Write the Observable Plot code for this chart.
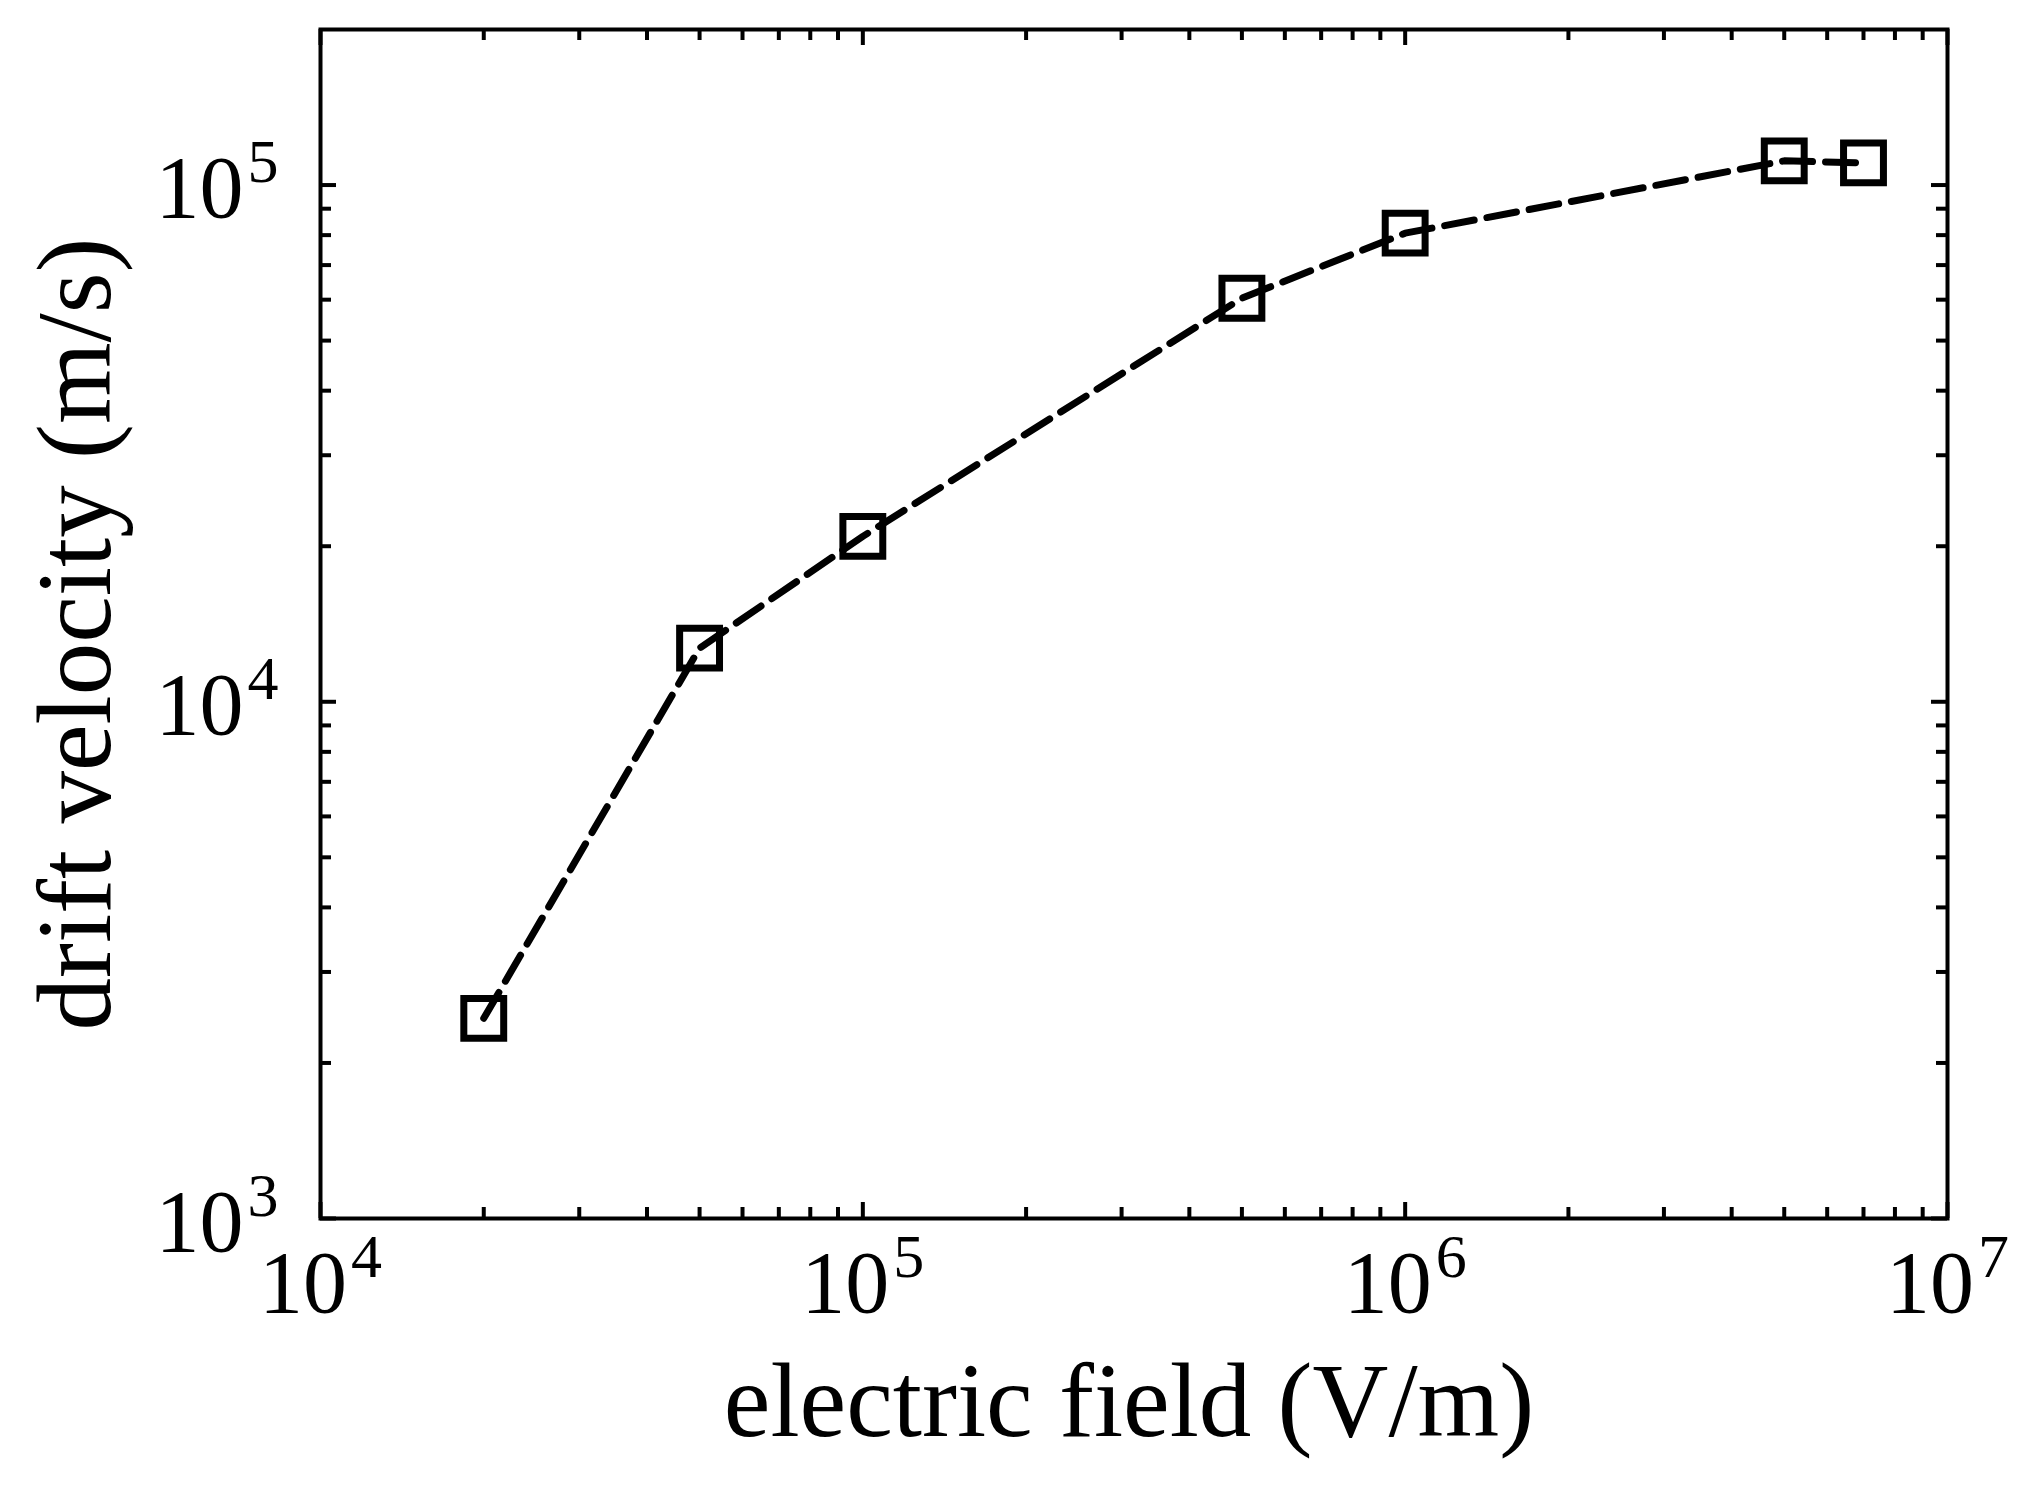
<!DOCTYPE html>
<html>
<head>
<meta charset="utf-8">
<script src="https://cdn.jsdelivr.net/npm/d3@7"></script>
<script src="https://cdn.jsdelivr.net/npm/@observablehq/plot@0.6"></script>
<style>
  html, body { margin: 0; padding: 0; background: #ffffff; }
  #chart svg { display: block; }
</style>
</head>
<body>
<div id="chart"></div>
<script>
// ---- data ----
const electricField = [2e4, 5e4, 1e5, 5e5, 1e6, 5e6, 7e6];          // V/m
const driftVelocity = [2440, 12700, 20900, 60400, 80700, 111400, 110400]; // m/s

const xMajorTicks = [1e4, 1e5, 1e6, 1e7];
const xMinorTicks = [2e4, 3e4, 4e4, 5e4, 6e4, 7e4, 8e4, 9e4,
                     2e5, 3e5, 4e5, 5e5, 6e5, 7e5, 8e5, 9e5,
                     2e6, 3e6, 4e6, 5e6, 6e6, 7e6, 8e6, 9e6];
const yMajorTicks = [1e3, 1e4, 1e5];
const yMinorTicks = [2e3, 3e3, 4e3, 5e3, 6e3, 7e3, 8e3, 9e3,
                     2e4, 3e4, 4e4, 5e4, 6e4, 7e4, 8e4, 9e4];
const xTickLabels = ["10^4", "10^5", "10^6", "10^7"];
const yTickLabels = ["10^3", "10^4", "10^5"];
const xDomain = [1e4, 1e7];
const yDomain = [1e3, 2e5];
const xLabel = "electric field (V/m)";
const yLabel = "drift velocity (m/s)";

const points = electricField.map((e, i) => ({field: e, velocity: driftVelocity[i]}));

// ---- layout ----
const W = 2041, H = 1492;
const mL = 320, mR = 94, mT = 29, mB = 274;
const frameH = H - mT - mB;
const frameW = W - mL - mR;
const majorLen = 16, minorLen = 11, tickW = 4;
const FONT = "'Liberation Serif', 'DejaVu Serif', serif";

const xFmt = d => xTickLabels[xMajorTicks.indexOf(d)];
const yFmt = d => yTickLabels[yMajorTicks.indexOf(d)];

const tickStyle = {stroke: "black", strokeWidth: tickW, strokeLinecap: "butt"};

const chart = Plot.plot({
  width: W,
  height: H,
  marginLeft: mL,
  marginRight: mR,
  marginTop: mT,
  marginBottom: mB,
  style: {fontFamily: FONT, background: "white", color: "black"},
  x: {type: "log", domain: xDomain},
  y: {type: "log", domain: yDomain},
  marks: [
    // inward ticks: bottom & top
    Plot.tickX(xMinorTicks, {x: d => d, insetTop: frameH - minorLen, ...tickStyle}),
    Plot.tickX(xMinorTicks, {x: d => d, insetBottom: frameH - minorLen, ...tickStyle}),
    Plot.tickX(xMajorTicks, {x: d => d, insetTop: frameH - majorLen, ...tickStyle}),
    Plot.tickX(xMajorTicks, {x: d => d, insetBottom: frameH - majorLen, ...tickStyle}),
    // inward ticks: left & right
    Plot.tickY(yMinorTicks, {y: d => d, insetRight: frameW - minorLen, ...tickStyle}),
    Plot.tickY(yMinorTicks, {y: d => d, insetLeft: frameW - minorLen, ...tickStyle}),
    Plot.tickY(yMajorTicks, {y: d => d, insetRight: frameW - majorLen, ...tickStyle}),
    Plot.tickY(yMajorTicks, {y: d => d, insetLeft: frameW - majorLen, ...tickStyle}),
    // tick labels
    Plot.axisX({anchor: "bottom", ticks: xMajorTicks, tickFormat: xFmt, tickSize: 0,
                tickPadding: 31, fontSize: 88, label: null, fill: "black"}),
    Plot.axisY({anchor: "left", ticks: yMajorTicks, tickFormat: yFmt, tickSize: 0,
                tickPadding: 42, dy: 4, fontSize: 88, label: null, fill: "black"}),
    // axis titles
    Plot.text([xLabel], {text: d => d, frameAnchor: "bottom", textAnchor: "middle", lineAnchor: "middle",
                         dy: 184, dx: -5, fontSize: 105, fill: "black"}),
    Plot.text([yLabel], {text: d => d, frameAnchor: "left", textAnchor: "middle", lineAnchor: "middle",
                         rotate: -90, dx: -244, dy: 10, fontSize: 105, fill: "black"}),
    // data
    Plot.line(points, {x: "field", y: "velocity", stroke: "black", strokeWidth: 7,
                       strokeDasharray: "30,13", strokeLinejoin: "round"}),
    Plot.dot(points, {x: "field", y: "velocity", symbol: "square", r: 22.5,
                      stroke: "black", strokeWidth: 7, fill: "none"}),
    Plot.frame({stroke: "black", strokeWidth: 4})
  ]
});

// render "10^n" as 10 with a superscript exponent
chart.querySelectorAll("text").forEach(t => {
  const m = /^10\^(\d+)$/.exec(t.textContent);
  if (!m) return;
  t.textContent = "10";
  const sup = document.createElementNS("http://www.w3.org/2000/svg", "tspan");
  sup.setAttribute("font-size", "62");
  sup.setAttribute("dy", "-35");
  sup.setAttribute("dx", "4");
  sup.textContent = m[1];
  t.appendChild(sup);
});

document.getElementById("chart").appendChild(chart);
</script>
</body>
</html>
